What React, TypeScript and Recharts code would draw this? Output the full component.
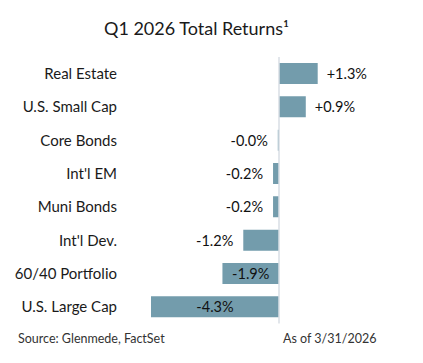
import { Bar, BarChart, Cell, LabelList, ReferenceLine, XAxis, YAxis } from "recharts";

const categories = [
  "Real Estate",
  "U.S. Small Cap",
  "Core Bonds",
  "Int'l EM",
  "Muni Bonds",
  "Int'l Dev.",
  "60/40 Portfolio",
  "U.S. Large Cap",
];

const returns = [1.3, 0.9, -0.04, -0.2, -0.2, -1.2, -1.9, -4.3];

const data = categories.map((name, i) => ({ name, value: returns[i] }));

const BAR = "#739cac";
const FONT = "Lato, 'Noto Sans', sans-serif";

const fmt = (v: number) => (v > 0 ? "+" : "") + v.toFixed(1) + "%";

// Excel-style: centred inside when it fits, otherwise just past the bar end
function ValueLabel(props: any) {
  const { x, y, width, height, value } = props;
  const v = Number(value);
  const left = Math.min(x, x + width);
  const w = Math.abs(width);
  const cy = y + height / 2;
  const text = fmt(v);
  const textW = text.length * 7.6;
  let tx = left + w + 9;
  let anchor: "start" | "middle" | "end" = "start";
  if (v < 0) {
    if (w > textW + 12) {
      tx = left + w / 2;
      anchor = "middle";
    } else {
      tx = left - 10;
      anchor = "end";
    }
  }
  return (
    <text
      x={tx}
      y={cy}
      textAnchor={anchor}
      dominantBaseline="central"
      fontSize={14.5}
      fontFamily={FONT}
      fill="#111"
    >
      {text}
    </text>
  );
}

export default function App() {
  return (
    <div
      style={{
        position: "absolute",
        left: 0,
        top: 0,
        width: 423,
        height: 363,
        background: "#fff",
        fontFamily: FONT,
      }}
    >
      <div
        style={{
          position: "absolute",
          left: 0,
          top: 17,
          width: 393,
          textAlign: "center",
          fontSize: 18,
          lineHeight: "22px",
          color: "#1a1a1a",
        }}
      >
        Q1 2026 Total Returns¹
      </div>
      <div style={{ position: "absolute", left: 0, top: 0 }}>
        <BarChart
          width={423}
          height={363}
          data={data}
          layout="vertical"
          margin={{ top: 57, right: 54.7, bottom: 39.4, left: 0 }}
        >
          <XAxis type="number" domain={[-4.3, 3]} hide allowDataOverflow />
          <YAxis
            type="category"
            dataKey="name"
            width={151}
            axisLine={false}
            tickLine={false}
            tickSize={0}
            tickMargin={34}
            tick={{ fontSize: 15, fill: "#1a1a1a", fontFamily: FONT }}
            interval={0}
          />
          <ReferenceLine x={0} stroke="#d9dee5" strokeWidth={1.5} />
          <Bar dataKey="value" barSize={21} isAnimationActive={false}>
            {data.map((_, i) => (
              <Cell key={i} fill={BAR} />
            ))}
            <LabelList dataKey="value" content={ValueLabel} />
          </Bar>
        </BarChart>
      </div>
      <div
        style={{
          position: "absolute",
          left: 18,
          top: 331,
          fontSize: 12.5,
          lineHeight: "15px",
          color: "#333",
        }}
      >
        Source: Glenmede, FactSet
      </div>
      <div
        style={{
          position: "absolute",
          left: 283,
          top: 331,
          fontSize: 12.5,
          lineHeight: "15px",
          color: "#333",
        }}
      >
        As of 3/31/2026
      </div>
    </div>
  );
}
